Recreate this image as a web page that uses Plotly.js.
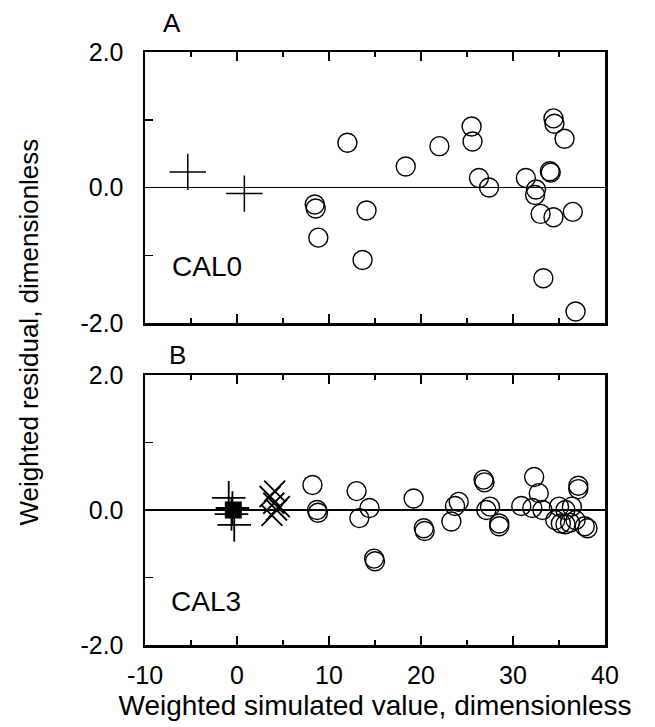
<!DOCTYPE html>
<html>
<head>
<meta charset="utf-8">
<script src="https://cdn.plot.ly/plotly-3.0.1.min.js"></script>
<style>html,body{margin:0;padding:0;background:#fff;}#chart{width:655px;height:727px;}</style>
</head>
<body>
<div id="chart"></div>
<script>
// ---------- Panel A (CAL0) ----------
const a_cross_x = [-5.35, 0.8];
const a_cross_y = [0.23, -0.09];
const a_circ_x = [12.0, 8.45, 8.55, 8.84, 14.08, 13.65, 18.34, 22.0, 25.5, 25.6, 26.3, 27.4, 31.4, 34.1, 34.0, 32.5, 32.4, 33.0, 34.4, 36.5, 34.4, 34.5, 35.6, 33.3, 36.8];
const a_circ_y = [0.66, -0.25, -0.31, -0.74, -0.34, -1.07, 0.31, 0.61, 0.90, 0.68, 0.14, 0.00, 0.14, 0.22, 0.24, -0.03, -0.11, -0.39, -0.44, -0.36, 1.02, 0.94, 0.72, -1.34, -1.83];

// ---------- Panel B (CAL3) ----------
const b_sq_x = [-0.4];
const b_sq_y = [0.0];
const b_plus_x = [-0.9, -0.5, -0.6, -0.3];
const b_plus_y = [0.18, 0.03, -0.06, -0.22];
const b_xm_x = [3.6, 4.0, 4.3, 3.8, 4.6, 4.1];
const b_xm_y = [0.20, 0.10, 0.00, -0.08, 0.05, 0.28];
const b_circ_x = [8.2, 8.8, 8.7, 13.0, 14.4, 13.3, 14.9, 15.0, 19.2, 20.4, 20.3, 23.3, 23.7, 24.1, 26.8, 26.9, 27.1, 27.5, 28.5, 28.5, 30.9, 32.3, 32.8, 32.1, 33.2, 35.0, 35.7, 36.4, 34.6, 35.2, 35.7, 36.2, 36.8, 37.1, 37.1, 37.8, 38.1];
const b_circ_y = [0.37, -0.04, 0.0, 0.28, 0.03, -0.12, -0.72, -0.76, 0.17, -0.31, -0.27, -0.17, 0.06, 0.12, 0.45, 0.41, 0.0, 0.05, -0.20, -0.24, 0.06, 0.49, 0.25, 0.03, 0.0, 0.05, 0.0, 0.05, -0.15, -0.20, -0.21, -0.19, -0.15, 0.36, 0.31, -0.24, -0.27];

const xTicks = [-10, 0, 10, 20, 30, 40];
const xTickText = ['-10', '0', '10', '20', '30', '40'];
const yTickVals = [-2, -1, 0, 1, 2];
const yTickText = ['-2.0', '', '0.0', '', '2.0'];
const panelLabels = ['A', 'B'];
const runLabels = ['CAL0', 'CAL3'];
const xTitle = 'Weighted simulated value, dimensionless';
const yTitle = 'Weighted residual, dimensionless';

const FONT = 'Liberation Sans, Arial, Helvetica, sans-serif';
const circ = {symbol: 'circle-open', size: 19, color: 'black', line: {width: 1.4, color: 'black'}};

const traces = [
  {x: a_cross_x, y: a_cross_y, xaxis: 'x', yaxis: 'y', mode: 'markers', type: 'scatter',
   marker: {symbol: 'cross-thin-open', size: 26, color: 'black', line: {width: 1.5, color: 'black'}}},
  {x: a_circ_x, y: a_circ_y, xaxis: 'x', yaxis: 'y', mode: 'markers', type: 'scatter', marker: circ},
  {x: b_sq_x, y: b_sq_y, xaxis: 'x2', yaxis: 'y2', mode: 'markers', type: 'scatter',
   marker: {symbol: 'square', size: 17, color: 'black', line: {width: 0}}},
  {x: b_plus_x, y: b_plus_y, xaxis: 'x2', yaxis: 'y2', mode: 'markers', type: 'scatter',
   marker: {symbol: 'cross-thin-open', size: 24, color: 'black', line: {width: 1.8, color: 'black'}}},
  {x: b_xm_x, y: b_xm_y, xaxis: 'x2', yaxis: 'y2', mode: 'markers', type: 'scatter',
   marker: {symbol: 'x-thin-open', size: 21, color: 'black', line: {width: 1.8, color: 'black'}}},
  {x: b_circ_x, y: b_circ_y, xaxis: 'x2', yaxis: 'y2', mode: 'markers', type: 'scatter', marker: circ}
];

function xax(showLabels) {
  return {
    range: [-10, 40], tickvals: xTicks, ticktext: xTickText, ticks: 'inside', ticklen: 9, tickwidth: 1.5, tickcolor: 'black',
    showline: true, linewidth: 2.5, linecolor: 'black', mirror: 'ticks',
    showgrid: false, zeroline: false, showticklabels: showLabels,
    minor: {dtick: 5, tick0: -10, ticks: 'inside', ticklen: 5, tickwidth: 1.2, tickcolor: 'black', showgrid: false},
    tickfont: {family: FONT, size: 25, color: 'black'}, ticklabelstandoff: 6, fixedrange: true
  };
}
function yax(domain, anchor) {
  return {
    domain: domain, anchor: anchor, range: [-2, 2], tickvals: yTickVals, ticktext: yTickText,
    ticks: 'inside', ticklen: 8, tickwidth: 1.5, tickcolor: 'black',
    showline: true, linewidth: 2.5, linecolor: 'black', mirror: true,
    showgrid: false, zeroline: true, zerolinecolor: 'black', zerolinewidth: 1.5,
    tickfont: {family: FONT, size: 25, color: 'black'}, ticklabelstandoff: 14, fixedrange: true
  };
}

const xa = xax(false); xa.anchor = 'y';
const xb = xax(true); xb.anchor = 'y2';
xb.title = {text: xTitle, font: {family: FONT, size: 28, color: 'black'}, standoff: 8};

const layout = {
  width: 655, height: 727,
  margin: {l: 145, r: 50, t: 52, b: 82},
  paper_bgcolor: 'white', plot_bgcolor: 'white',
  showlegend: false,
  font: {family: FONT, color: 'black'},
  xaxis: xa, xaxis2: xb,
  yaxis: yax([0.543, 1], 'x'),
  yaxis2: yax([0, 0.4553], 'x2'),
  annotations: [
    {text: panelLabels[0], xref: 'x domain', yref: 'y domain', x: 0.058, y: 1.107, xanchor: 'center', yanchor: 'middle', showarrow: false, font: {family: FONT, size: 26}},
    {text: panelLabels[1], xref: 'x2 domain', yref: 'y2 domain', x: 0.071, y: 1.074, xanchor: 'center', yanchor: 'middle', showarrow: false, font: {family: FONT, size: 26}},
    {text: runLabels[0], xref: 'x domain', yref: 'y domain', x: 0.135, y: 0.21, xanchor: 'center', yanchor: 'middle', showarrow: false, font: {family: FONT, size: 28}},
    {text: runLabels[1], xref: 'x2 domain', yref: 'y2 domain', x: 0.132, y: 0.16, xanchor: 'center', yanchor: 'middle', showarrow: false, font: {family: FONT, size: 28}},
    {text: yTitle, xref: 'paper', yref: 'paper', x: -0.253, y: 0.528, xanchor: 'center', yanchor: 'middle', textangle: -90, showarrow: false, font: {family: FONT, size: 26}}
  ]
};

Plotly.newPlot('chart', traces, layout, {staticPlot: true, displayModeBar: false});
</script>
</body>
</html>
